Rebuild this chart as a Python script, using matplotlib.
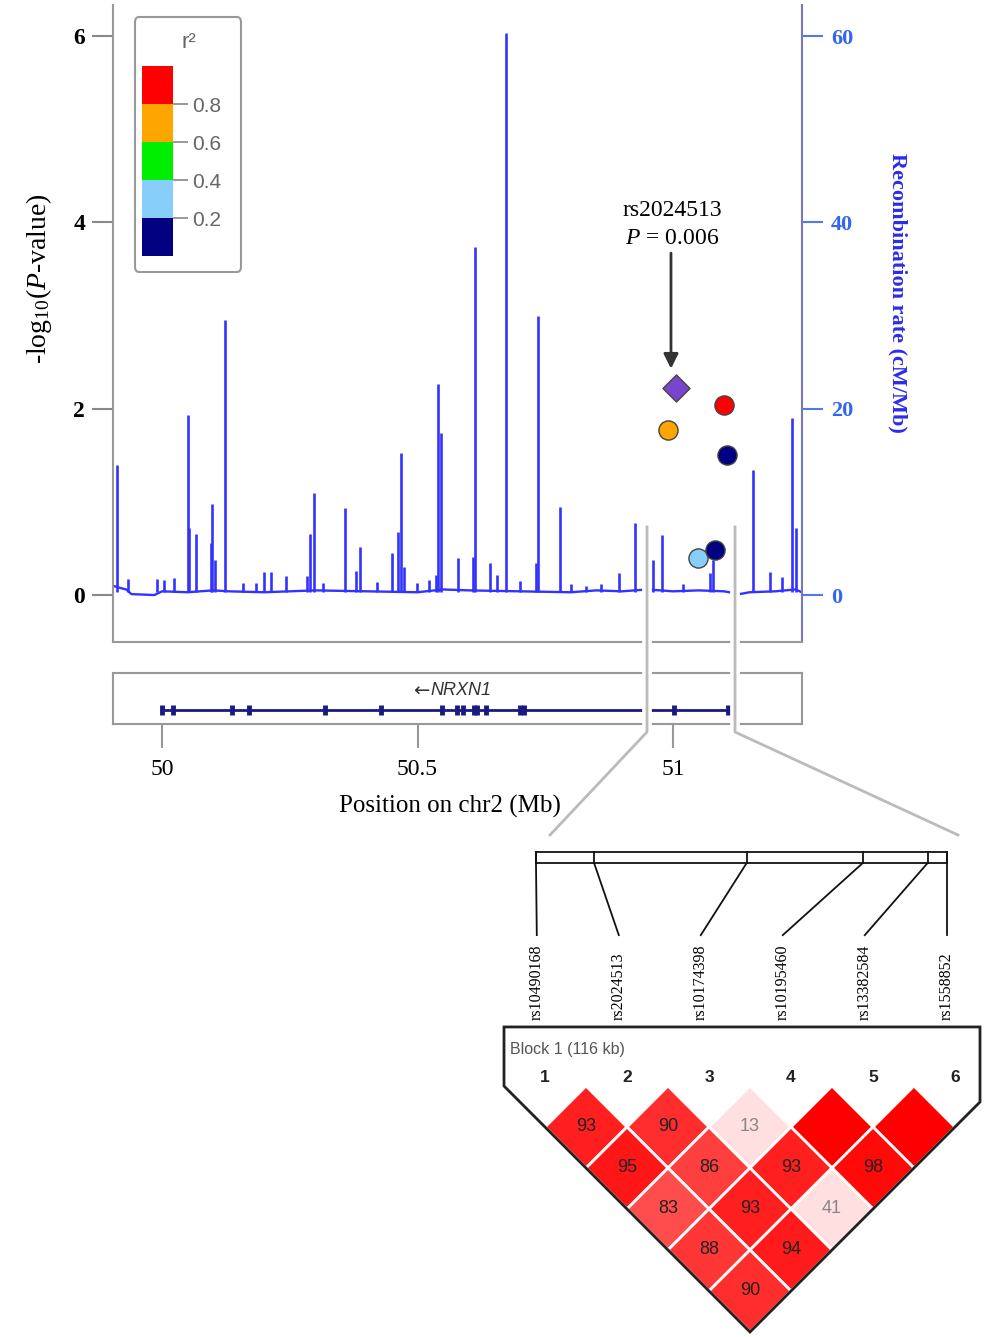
import numpy as np
import matplotlib
matplotlib.use("Agg")
import matplotlib.pyplot as plt
from matplotlib.patches import Polygon, Rectangle, FancyBboxPatch
from matplotlib.lines import Line2D
import matplotlib.patheffects as pe

plt.rcParams['font.family'] = ['Liberation Serif', 'DejaVu Serif']
plt.rcParams['mathtext.fontset'] = 'custom'
plt.rcParams['mathtext.rm'] = 'Liberation Serif'
plt.rcParams['mathtext.it'] = 'Liberation Serif:italic'

SANS = ['Liberation Sans', 'DejaVu Sans']

# ---- data ----
# recombination background level (Mb, cM/Mb)
base_pos = [49.904, 49.915, 49.930, 49.940, 49.985, 50.000, 50.050, 50.100, 50.130,
            50.200, 50.300, 50.400, 50.500, 50.550, 50.600, 50.700, 50.800, 50.850,
            50.900, 50.950, 51.000, 51.050, 51.100, 51.130, 51.150, 51.200, 51.240, 51.252]
base_rate = [1.0, 0.8, 0.6, 0.1, 0.0, 0.4, 0.3, 0.5, 0.4,
             0.3, 0.5, 0.4, 0.3, 0.6, 0.5, 0.4, 0.3, 0.5,
             0.4, 0.6, 0.4, 0.5, 0.4, 0.1, 0.3, 0.4, 0.6, 0.3]

# recombination hotspots (Mb, cM/Mb)
spike_pos = [49.912, 49.933, 49.990, 50.004, 50.023, 50.051, 50.053, 50.067, 50.096,
             50.098, 50.104, 50.123, 50.159, 50.184, 50.200, 50.213, 50.243, 50.284,
             50.290, 50.297, 50.315, 50.358, 50.380, 50.387, 50.421, 50.450, 50.462,
             50.468, 50.474, 50.499, 50.522, 50.536, 50.540, 50.546, 50.579, 50.609,
             50.613, 50.642, 50.656, 50.673, 50.700, 50.732, 50.736, 50.779, 50.800,
             50.830, 50.860, 50.894, 50.926, 50.961, 50.978, 51.020, 51.072, 51.078,
             51.157, 51.190, 51.213, 51.233, 51.241]
spike_rate = [14.0, 1.7, 1.7, 1.6, 1.8, 19.3, 7.2, 6.5, 5.6,
              9.8, 3.8, 29.5, 1.3, 1.3, 2.5, 2.5, 2.0, 2.0,
              6.5, 11.0, 1.3, 9.3, 2.6, 5.2, 1.4, 4.5, 6.8,
              15.2, 3.0, 1.3, 1.6, 2.1, 22.6, 17.4, 4.0, 4.1,
              37.4, 3.4, 2.1, 60.3, 1.5, 3.4, 30.0, 9.5, 1.2,
              1.0, 1.2, 2.4, 7.7, 3.8, 6.4, 1.2, 2.4, 3.8,
              13.4, 2.5, 1.9, 19.0, 7.2]

# SNPs
snp_names = ['rs10490168', 'rs2024513', 'rs10174398', 'rs10195460', 'rs13382584', 'rs1558852']
snp_pos = [50.990, 51.0064, 51.0495, 51.0823, 51.1006, 51.106]
snp_logp = [1.77, 2.22, 0.40, 0.48, 2.04, 1.50]
snp_r2 = [0.7, 1.0, 0.3, 0.1, 0.9, 0.1]
index_snp = 'rs2024513'

r2_edges = [0.0, 0.2, 0.4, 0.6, 0.8, 1.0]
r2_colors = ['#000080', '#87cefa', '#00ee00', '#ffa500', '#ff0000']
r2_ticks = [0.2, 0.4, 0.6, 0.8]

# NRXN1 gene model
gene_start, gene_end = 50.000, 51.107
exon_pos = [50.000, 50.022, 50.136, 50.170, 50.318, 50.428, 50.547, 50.577, 50.588,
            50.610, 50.616, 50.633, 50.700, 50.709, 51.001, 51.107]

# pairwise LD (D' x 100), keyed by marker pair (1-based)
ld_pairs = [(1, 2), (2, 3), (3, 4), (4, 5), (5, 6),
            (1, 3), (2, 4), (3, 5), (4, 6),
            (1, 4), (2, 5), (3, 6),
            (1, 5), (2, 6),
            (1, 6)]
ld_dprime = [93, 90, 13, 100, 100,
             95, 86, 93, 98,
             83, 93, 41,
             88, 94,
             90]

# ---- layout helpers (pixel boxes) ----
W, H = 1004, 1337


def box(x0, y0, x1, y1):
    return [x0 / W, 1 - y1 / H, (x1 - x0) / W, (y1 - y0) / H]


def fpt(x, y):
    return x / W, 1 - y / H


fig = plt.figure(figsize=(W / 100, H / 100), dpi=100)

# ---- main association panel ----
ax = fig.add_axes(box(113, 5, 802, 642))
ax2 = ax.twinx()
ax.set_zorder(ax2.get_zorder() + 1)
ax.patch.set_visible(False)

xlim = (49.904, 51.2524)
ax.set_xlim(xlim)
ax.set_ylim(-0.504, 6.333)
ax2.set_ylim(-5.04, 63.33)

rec_col = '#3333ff'
ax2.plot(base_pos, base_rate, color=rec_col, lw=1.7)
ax2.vlines(spike_pos, 0.3, spike_rate, color=rec_col, lw=1.9)

for name, p, lp, r2 in zip(snp_names, snp_pos, snp_logp, snp_r2):
    if name == index_snp:
        ax.scatter(p, lp, marker='D', s=190, color='#7a44cc', edgecolor='#444', lw=1, zorder=4)
    else:
        col = r2_colors[min(int(np.digitize(r2, r2_edges)) - 1, 4)]
        ax.scatter(p, lp, marker='o', s=190, color=col, edgecolor='#444', lw=1, zorder=4)

ax.text(50.999, 4.13, 'rs2024513', ha='center', va='center', fontsize=17)
ax.text(50.999, 3.83, r'$\mathit{P}$ = 0.006', ha='center', va='center', fontsize=17)
ax.annotate('', xy=(50.996, 2.40), xytext=(50.996, 3.70),
            arrowprops=dict(arrowstyle='-|>', color='#333', lw=2, mutation_scale=22))

ax.set_xticks([])
ax.set_yticks([0, 2, 4, 6])
ax.set_yticklabels(['0', '2', '4', '6'], fontweight='bold')
ax.tick_params(axis='y', length=15, width=1.5, color='#888', labelsize=17, pad=5)
for s in ['top', 'right']:
    ax.spines[s].set_visible(False)
for s in ['left', 'bottom']:
    ax.spines[s].set_color('#999')
    ax.spines[s].set_linewidth(1.5)
ax.set_ylabel(r'-log$_{10}$($\mathit{P}$-value)', fontsize=20, va='center')
ax.yaxis.set_label_coords(-0.107, 0.571)

ax2.set_yticks([0, 20, 40, 60])
ax2.set_yticklabels(['0', '20', '40', '60'], fontweight='bold')
ax2.tick_params(axis='y', length=15, width=1.5, color='#5577ee', labelcolor='#3366ee',
                labelsize=16, pad=6)
for s in ['top', 'left', 'bottom']:
    ax2.spines[s].set_visible(False)
ax2.spines['right'].set_color('#7777bb')
ax2.spines['right'].set_linewidth(1.5)
ax2.set_ylabel('Recombination rate (cM/Mb)', color='#2b2bee', fontsize=16,
               fontweight='bold', rotation=270, va='center')
ax2.yaxis.set_label_coords(1.138, 0.548)

# ---- r2 legend ----
cax = fig.add_axes(box(142, 66, 173, 256))
cax.bar(0, 0.2, bottom=r2_edges[:-1], width=1, color=r2_colors, edgecolor='none')
cax.set_xlim(-0.5, 0.5)
cax.set_ylim(0, 1)
cax.set_xticks([])
cax.yaxis.tick_right()
cax.set_yticks(r2_ticks)
cax.set_yticklabels([f'{t:.1f}' for t in r2_ticks], family=SANS)
cax.tick_params(axis='y', length=11, width=1.2, color='#888', labelcolor='#666',
                labelsize=15, pad=3)
for s in cax.spines.values():
    s.set_visible(False)
fig.text(*fpt(189, 43), 'r²', ha='center', va='center', fontsize=16, color='#666', family=SANS)
fig.add_artist(FancyBboxPatch(fpt(135, 272), 106 / W, 255 / H,
                              boxstyle='round,pad=0,rounding_size=0.004',
                              transform=fig.transFigure, fill=False, ec='#999', lw=1.5))

# ---- gene track ----
axg = fig.add_axes(box(113, 673, 802, 724))
axg.set_xlim(xlim)
axg.set_ylim(0, 1)
gene_col = '#1a1a80'
axg.plot([gene_start, gene_end], [0.27, 0.27], color=gene_col, lw=2)
axg.plot(exon_pos, [0.27] * len(exon_pos), ls='none', marker='|', ms=7, mew=3.5, color=gene_col)
axg.text(50.523, 0.65, '←', ha='right', va='center', fontsize=14,
         color='#333', family=['DejaVu Sans'])
axg.text(50.525, 0.65, 'NRXN1', ha='left', va='center', fontsize=13,
         style='italic', color='#333', family=SANS)
axg.set_yticks([])
axg.set_xticks([50, 50.5, 51])
axg.set_xticklabels(['50', '50.5', '51'])
axg.tick_params(axis='x', length=17, width=1.5, color='#999', labelsize=17, pad=8)
for s in axg.spines.values():
    s.set_color('#999')
    s.set_linewidth(1.5)
axg.set_xlabel('Position on chr2 (Mb)', fontsize=18, va='center')
axg.xaxis.set_label_coords(0.489, -1.608)

# ---- LD (Haploview-style) panel ----
axl = fig.add_axes(box(500, 840, 985, 1335))
axl.set_xlim(0.4512, 6.366)
axl.set_ylim(-3.0366, 3.0)
axl.axis('off')


def ld_color(d):
    g = min(223, 446 * (1 - d / 100)) / 255
    return (1.0, g, g)


for (i, j), d in zip(ld_pairs, ld_dprime):
    cx, cy = (i + j) / 2, -(j - i) / 2
    verts = [(cx - 0.5, cy), (cx, cy + 0.5), (cx + 0.5, cy), (cx, cy - 0.5)]
    axl.add_patch(Polygon(verts, closed=True, fc=ld_color(d), ec='white', lw=2))
    if d < 100:
        axl.text(cx, cy, str(d), ha='center', va='center', fontsize=13, family=SANS,
                 color='#888' if d < 50 else '#222')

n = len(snp_names)
outline = [(0.5, 0.72), (0.5, 0.0), (3.5, -3.0), (6.305, -0.195), (6.305, 0.72)]
axl.add_patch(Polygon(outline, closed=True, fill=False, ec='#222', lw=2))
axl.text(0.573, 0.44, 'Block 1 (116 kb)', ha='left', va='center', fontsize=11.5,
         color='#555', family=SANS)
for k in range(n):
    axl.text(k + 1, 0.098, str(k + 1), ha='center', va='center', fontsize=12.5,
             fontweight='bold', color='#222', family=SANS)

# physical map bar
bar_x0, bar_x1 = 0.89, 5.90
bar_y0, bar_y1 = 2.72, 2.854
axl.add_patch(Rectangle((bar_x0, bar_y0), bar_x1 - bar_x0, bar_y1 - bar_y0,
                        fill=False, ec='#111', lw=1.3))
span = snp_pos[-1] - snp_pos[0]
for k, (name, p) in enumerate(zip(snp_names, snp_pos)):
    bx = bar_x0 + (p - snp_pos[0]) / span * (bar_x1 - bar_x0)
    lx = k + 0.9
    axl.plot([bx, bx], [bar_y0, bar_y1], color='#111', lw=1.3)
    axl.plot([lx, bx], [1.84, bar_y0], color='#111', lw=1.3)
    axl.text(lx, 0.80, name, rotation=90, ha='center', va='bottom', fontsize=11.5)

# ---- zoom connector lines ----
halo = [pe.Stroke(linewidth=7, foreground='white'), pe.Normal()]
for pts in ([(647, 527), (647, 732), (550, 835)], [(735, 527), (735, 732), (958, 835)]):
    xs = [fpt(x, y)[0] for x, y in pts]
    ys = [fpt(x, y)[1] for x, y in pts]
    fig.add_artist(Line2D(xs, ys, transform=fig.transFigure, color='#bbbbbb', lw=2,
                          path_effects=halo))

fig.savefig('out.png', dpi=100)
